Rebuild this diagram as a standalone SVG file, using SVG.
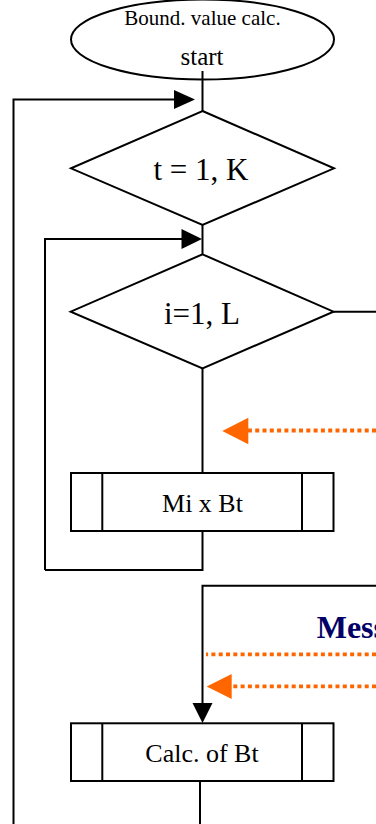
<svg xmlns="http://www.w3.org/2000/svg" width="376" height="824" viewBox="0 0 376 824">
<style>
.s{fill:#fff;stroke:#000;stroke-width:2}
.l{fill:none;stroke:#000;stroke-width:2}
.o{fill:none;stroke:#FF6600;stroke-width:3.8;stroke-dasharray:4 3.3}
.t{font-family:"Liberation Serif","Times New Roman",serif;fill:#000;text-anchor:middle}
.m{font-family:"Liberation Serif","Times New Roman",serif;fill:#000066;font-weight:bold}
</style>
<rect width="376" height="824" fill="#fff"/>
<g id="connectors">
<path class="l" d="M202.5,71 V111"/>
<path class="l" d="M13.5,824 V99.5 H178"/>
<polygon points="174,90 195,99.5 174,109" fill="#000"/>
<path class="l" d="M202.5,225 V254"/>
<path class="l" d="M45,570 V239 H184"/>
<polygon points="181.5,229 202,239 181.5,249" fill="#000"/>
<path class="l" d="M333.5,311.7 H376"/>
<path class="l" d="M202.5,368 V473"/>
<path class="l" d="M202.5,531 V570 H45"/>
<path class="l" d="M376,585.7 H202.5 V705"/>
<polygon points="192.5,703 212.5,703 202.5,723" fill="#000"/>
<path class="l" d="M200,781 V824"/>
<path class="o" d="M376,430.5 H248"/>
<polygon points="222.3,431 248.3,417.7 248.3,444.3" fill="#FF6600"/>
<path class="o" d="M376,654.3 H206"/>
<path class="o" d="M376,686.3 H232"/>
<polygon points="206.7,686.5 231.7,674 231.7,699" fill="#FF6600"/>
</g>
<g id="start">
<ellipse class="s" cx="202.5" cy="39.5" rx="131.5" ry="40"/>
<text class="t" x="202.5" y="25" font-size="21">Bound. value calc.</text>
<text class="t" x="202" y="65" font-size="25">start</text>
<path class="l" d="M202.5,71 V79"/>
</g>
<g id="loop-t">
<polygon class="s" points="202.5,111 334,168.3 202.5,225 71,168.3"/>
<text class="t" x="201" y="180" font-size="31">t = 1, K</text>
</g>
<g id="loop-i">
<polygon class="s" points="202.5,254.3 333.5,311.7 202.5,368.3 70.7,311.7"/>
<text class="t" x="202" y="323.5" font-size="31">i=1, L</text>
</g>
<g id="mixbt">
<rect class="s" x="71" y="473" width="262.5" height="58"/>
<path class="l" d="M102.3,473 V531 M302,473 V531"/>
<text class="t" x="202.5" y="511.7" font-size="26">Mi x Bt</text>
</g>
<g id="message">
<text class="m" x="316.7" y="638.3" font-size="32">Mess</text>
</g>
<g id="calcbt">
<rect class="s" x="71" y="723.3" width="262.5" height="57.7"/>
<path class="l" d="M102.3,723.3 V781 M302,723.3 V781"/>
<text class="t" x="202" y="761.7" font-size="26">Calc. of Bt</text>
</g>
</svg>
